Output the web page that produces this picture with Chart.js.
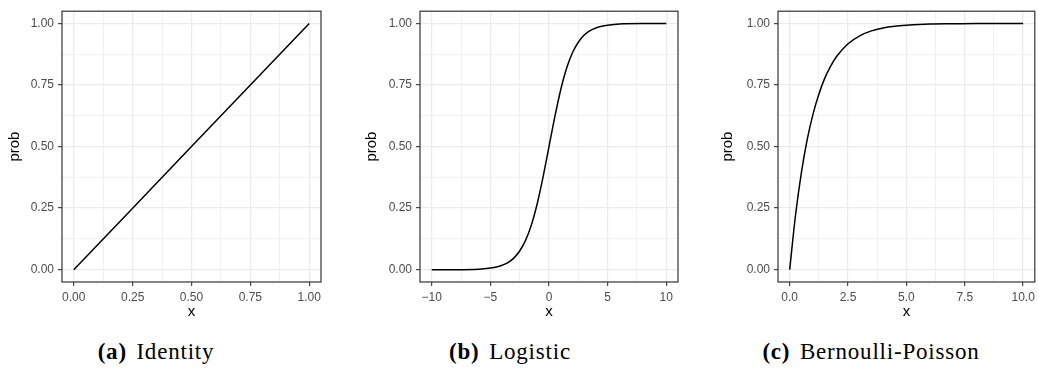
<!DOCTYPE html>
<html>
<head>
<meta charset="utf-8">
<script src="https://cdn.jsdelivr.net/npm/chart.js@4"></script>
<style>
  body { margin: 0; background: #fff; width: 1039px; height: 369px; position: relative; overflow: hidden; }
  canvas { position: absolute; top: 0; }
  .cap { position: absolute; top: 339px; width: 300px; text-align: center;
         font-family: "Liberation Serif", serif; font-size: 23px; letter-spacing: 0.8px; word-spacing: 3px;
         color: #000; white-space: nowrap; }
</style>
</head>
<body>
<canvas id="c1" width="330" height="321" style="left:0px"></canvas>
<canvas id="c2" width="345" height="321" style="left:340px"></canvas>
<canvas id="c3" width="349" height="321" style="left:690px"></canvas>
<div class="cap" style="left:6px"><b>(a)</b> Identity</div>
<div class="cap" style="left:360px"><b>(b)</b> Logistic</div>
<div class="cap" style="left:721px"><b>(c)</b> Bernoulli-Poisson</div>
<script>
// valeurs
const identityX = [0, 0.25, 0.5, 0.75, 1];
const identityY = [0, 0.25, 0.5, 0.75, 1];

const logisticX = [-10, -8, -6, -5, -4.5, -4, -3.5, -3, -2.5, -2, -1.5, -1, -0.5, 0, 0.5, 1, 1.5, 2, 2.5, 3, 3.5, 4, 4.5, 5, 6, 8, 10];
const logisticY = [0, 0, 0.002, 0.007, 0.011, 0.018, 0.029, 0.047, 0.076, 0.119, 0.182, 0.269, 0.378, 0.5, 0.622, 0.731, 0.818, 0.881, 0.924, 0.953, 0.971, 0.982, 0.989, 0.993, 0.998, 1, 1];

const bpX = [0, 0.25, 0.5, 0.75, 1, 1.25, 1.5, 1.75, 2, 2.5, 3, 3.5, 4, 4.5, 5, 6, 7, 8, 10];
const bpY = [0, 0.221, 0.393, 0.528, 0.632, 0.713, 0.777, 0.826, 0.865, 0.918, 0.95, 0.97, 0.982, 0.989, 0.993, 0.998, 0.999, 1, 1];

const probTicks = [0, 0.25, 0.5, 0.75, 1];
const probLabels = ['0.00', '0.25', '0.50', '0.75', '1.00'];
const identityTicks = [0, 0.25, 0.5, 0.75, 1];
const identityLabels = ['0.00', '0.25', '0.50', '0.75', '1.00'];
const logisticTicks = [-10, -5, 0, 5, 10];
const logisticLabels = ['\u221210', '\u22125', '0', '5', '10'];
const bpTicks = [0, 2.5, 5, 7.5, 10];
const bpLabels = ['0.0', '2.5', '5.0', '7.5', '10.0'];

const gris = '#EBEBEB';
const cadre = '#333333';

// ticks majeurs + mineurs (au milieu)
function avecMineurs(majeurs) {
    const res = [];
    for (let i = 0; i < majeurs.length; i++) {
        res.push(majeurs[i]);
        if (i < majeurs.length - 1) res.push((majeurs[i] + majeurs[i + 1]) / 2);
    }
    return res;
}

const cadrePlugin = {
    id: 'cadre',
    afterDatasetsDraw(chart) {
        const a = chart.chartArea;
        const ctx = chart.ctx;
        ctx.save();
        ctx.strokeStyle = cadre;
        ctx.lineWidth = 1.2;
        ctx.strokeRect(a.left, a.top, a.right - a.left, a.bottom - a.top);
        ctx.restore();
    }
};

function axe(majeurs, labels, min, max, titre, extra) {
    const estMajeur = v => majeurs.some(m => Math.abs(m - v) < 1e-9);
    return Object.assign({
        type: 'linear',
        min: min,
        max: max,
        afterBuildTicks: s => { s.ticks = avecMineurs(majeurs).map(v => ({ value: v })); },
        border: { display: false },
        grid: {
            color: gris,
            lineWidth: c => (c.tick && estMajeur(c.tick.value)) ? 1.3 : 0.7,
            tickColor: c => (c.tick && estMajeur(c.tick.value)) ? cadre : 'rgba(0,0,0,0)',
            tickWidth: 1.1,
            tickLength: 4,
            drawTicks: true
        },
        ticks: {
            autoSkip: false,
            maxRotation: 0,
            padding: 4,
            color: '#4D4D4D',
            font: { family: 'Liberation Sans', size: 12 },
            callback: v => {
                const i = majeurs.findIndex(m => Math.abs(m - v) < 1e-9);
                return i >= 0 ? labels[i] : '';
            }
        },
        title: {
            display: true,
            text: titre,
            color: '#000',
            font: { family: 'Liberation Sans', size: 15 },
            padding: 0
        }
    }, extra);
}

function graphique(id, xs, ys, xTicks, xLabels, xmin, xmax, largeurY, padTitre, padDroite) {
    const points = xs.map((x, i) => ({ x: x, y: ys[i] }));
    const sx = axe(xTicks, xLabels, xmin, xmax, 'x', { afterFit: s => { s.height = 39; } });
    sx.title.padding = { top: 0, bottom: 0 };
    const sy = axe(probTicks, probLabels, -0.05, 1.05, 'prob', { afterFit: s => { s.width = largeurY; } });
    sy.title.padding = { top: padTitre, bottom: 0 };
    new Chart(document.getElementById(id), {
        type: 'line',
        data: {
            datasets: [{
                data: points,
                borderColor: '#000',
                borderWidth: 1.5,
                pointRadius: 0,
                fill: false,
                cubicInterpolationMode: 'monotone'
            }]
        },
        options: {
            responsive: false,
            animation: false,
            layout: { padding: { top: 4, right: padDroite, left: 0, bottom: 0 } },
            plugins: { legend: { display: false }, tooltip: { enabled: false } },
            scales: { x: sx, y: sy }
        },
        plugins: [cadrePlugin]
    });
}

graphique('c1', identityX, identityY, identityTicks, identityLabels, -0.05, 1.05, 62, 6, 9);
graphique('c2', logisticX, logisticY, logisticTicks, logisticLabels, -11, 11, 80, 23, 7);
graphique('c3', bpX, bpY, bpTicks, bpLabels, -0.5, 10.5, 88, 29, 4);
</script>
</body>
</html>
